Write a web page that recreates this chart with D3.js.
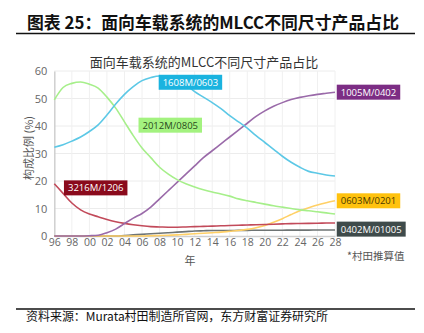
<!DOCTYPE html>
<html><head><meta charset="utf-8">
<script src="https://cdn.jsdelivr.net/npm/d3@7/dist/d3.min.js"></script>
<style>
html,body{margin:0;padding:0;background:#fff;}
svg{display:block;}
</style></head>
<body>
<svg id="c" width="424" height="333"></svg>
<script>
const years = d3.range(1996, 2029);
const xTickLabels = ["96","98","00","02","04","06","08","10","12","14","16","18","20","22","24","26","28"];
const yTicks = [0,10,20,30,40,50,60];

const s0603 = [32.3,33.2,34.5,36,38,40.4,44,48,51.5,54.3,56.5,57.6,58.2,57.8,57,55,52.5,50.5,48.5,46.3,43.8,41.5,39.2,36.5,34,31.5,29,26.8,25,23.5,22.8,22.2,21.8];
const s0805 = [49.5,54,55.5,56,55.2,53.8,50.5,46.5,41.5,36.5,32,28.5,25,22.5,20.5,19,17.8,16.8,16,15.3,14.5,13.5,12.8,12.2,11.6,11,10.5,10,9.5,9.2,8.8,8.4,8];
const s1206 = [19,15.5,12,9.5,8,7,6,5.2,4.6,4.1,3.7,3.4,3.3,3.2,3.2,3.3,3.4,3.5,3.6,3.7,3.8,3.9,4,4.1,4.2,4.3,4.4,4.5,4.55,4.6,4.65,4.7,4.75];
const s0402 = [0,0,0,0,0.1,0.3,1.2,2.5,4.5,6.5,8.2,10.5,13.5,16.5,19.5,22.5,25.5,28.5,31,33.5,36,38.5,41,43.5,45.5,47.2,48.5,49.6,50.4,51,51.5,51.9,52.3];
const s0201 = [0,0,0,0,0,0,0,0,0,0,0,0.1,0.2,0.3,0.4,0.6,0.8,1.0,1.2,1.4,1.7,2.0,2.4,3.0,3.8,5.0,6.3,7.8,9.2,10.3,11.3,12.1,12.8];
const s01005 = [0,0,0,0,0,0,0,0,0.2,0.4,0.6,0.8,1.0,1.2,1.4,1.6,1.8,1.9,2.0,2.0,2.0,2.05,2.05,2.1,2.1,2.1,2.1,2.15,2.15,2.15,2.2,2.2,2.2];

const seriesNames = ["1608M/0603","2012M/0805","3216M/1206","1005M/0402","0603M/0201","0402M/01005"];
const seriesValues = [s0603, s0805, s1206, s0402, s0201, s01005];
const lineColors = ["#5cc8e6","#a6ef8a","#c24a5a","#9a6aa9","#ffd066","#6e7474"];
const boxColors = ["#1ab3df","#a3f27f","#8a0a1c","#7c2d84","#ffc20e","#3f4b4b"];
const boxText = ["#fff","#2a4a20","#fff","#fff","#4a3a00","#fff"];
const labelPos = [[2007.9,55.9],[2005.6,40.3],[1997.1,17.5],[2028.2,52.3],[2028.2,12.8],[2028.2,2.5]];

const svg = d3.select("#c");
const m = {l:54.3, r:335, t:71, b:236};
const x = d3.scaleLinear().domain([1996,2028]).range([m.l, m.r]);
const y = d3.scaleLinear().domain([0,60]).range([m.b, m.t]);

// header
svg.append("text").attr("x",27).attr("y",29).attr("font-family","'Noto Sans CJK SC'")
  .attr("font-weight","bold").attr("font-size",17).attr("fill","#111")
  .attr("textLength",372).attr("lengthAdjust","spacingAndGlyphs")
  .text("图表 25：面向车载系统的MLCC不同尺寸产品占比");
svg.append("line").attr("x1",16).attr("x2",415).attr("y1",33.5).attr("y2",33.5).attr("stroke","#111").attr("stroke-width",1.5);
svg.append("line").attr("x1",16).attr("x2",415).attr("y1",309).attr("y2",309).attr("stroke","#111").attr("stroke-width",1.5);
svg.append("text").attr("x",26).attr("y",321).attr("font-family","'Noto Sans CJK SC'")
  .attr("font-size",12).attr("fill","#111")
  .attr("textLength",302).attr("lengthAdjust","spacingAndGlyphs")
  .text("资料来源：Murata村田制造所官网，东方财富证券研究所");

// chart title
svg.append("text").attr("x",204).attr("y",67).attr("text-anchor","middle")
  .attr("font-family","'Noto Sans CJK SC'").attr("font-size",13).attr("fill","#333")
  .text("面向车载系统的MLCC不同尺寸产品占比");

// grid
const g = svg.append("g");
g.selectAll(".hg").data(yTicks.slice(1)).join("line")
  .attr("x1",m.l).attr("x2",m.r).attr("y1",d=>y(d)).attr("y2",d=>y(d))
  .attr("stroke","#ececec").attr("stroke-width",1);
const xTickVals = d3.range(1996,2029,2);
g.selectAll(".vg").data(xTickVals.slice(1)).join("line")
  .attr("x1",d=>x(d)).attr("x2",d=>x(d)).attr("y1",m.t).attr("y2",m.b)
  .attr("stroke","#f0f0f0").attr("stroke-width",1);

// axes
const yAxis = d3.axisLeft(y).tickValues(yTicks).tickSize(0).tickPadding(7);
const ya = svg.append("g").attr("transform",`translate(${m.l},0)`).call(yAxis);
ya.select(".domain").attr("stroke","#cfcfcf").attr("stroke-width",1.5);
ya.selectAll("text").attr("font-family","'Open Sans'").attr("font-size",11).attr("fill","#666");

const xAxis = d3.axisBottom(x).tickValues(xTickVals).tickSize(0).tickPadding(3)
  .tickFormat((d,i)=>xTickLabels[i]);
const xa = svg.append("g").attr("transform",`translate(0,${m.b})`).call(xAxis);
xa.select(".domain").attr("stroke","#cfcfcf").attr("stroke-width",1.5);
xa.selectAll("text").attr("font-family","'Open Sans'").attr("font-size",10.5).attr("fill","#666");

svg.append("text").attr("x",190).attr("y",265).attr("text-anchor","middle")
  .attr("font-family","'Noto Sans CJK SC'").attr("font-size",11).attr("fill","#555").text("年");
svg.append("text").attr("transform","translate(33,148) rotate(-90)").attr("text-anchor","middle")
  .attr("font-family","'Noto Sans CJK SC'").attr("font-size",11).attr("fill","#555").text("构成比例 (%)");
svg.append("text").attr("x",347).attr("y",260)
  .attr("font-family","'Noto Sans CJK SC'").attr("font-size",10.5).attr("fill","#555").text("*村田推算值");

// lines
const line = d3.line().x((d,i)=>x(years[i])).y(d=>y(d)).curve(d3.curveMonotoneX);
const order = [5,4,2,3,1,0];
order.forEach(k=>{
  svg.append("path").datum(seriesValues[k]).attr("d",line)
    .attr("fill","none").attr("stroke",lineColors[k]).attr("stroke-width",1.6);
});

// label boxes
seriesNames.forEach((n,k)=>{
  const [lx,lv] = labelPos[k];
  const gg = svg.append("g").attr("transform",`translate(${x(lx)},${y(lv)})`);
  const t = gg.append("text").attr("x",4).attr("y",3.5)
    .attr("font-family","'Open Sans'").attr("font-size",9.5).attr("fill",boxText[k]).text(n);
  const w = t.node().getComputedTextLength();
  gg.insert("rect","text").attr("x",0).attr("y",-7.5).attr("width",w+8).attr("height",15).attr("fill",boxColors[k]);
});
</script>
</body></html>
